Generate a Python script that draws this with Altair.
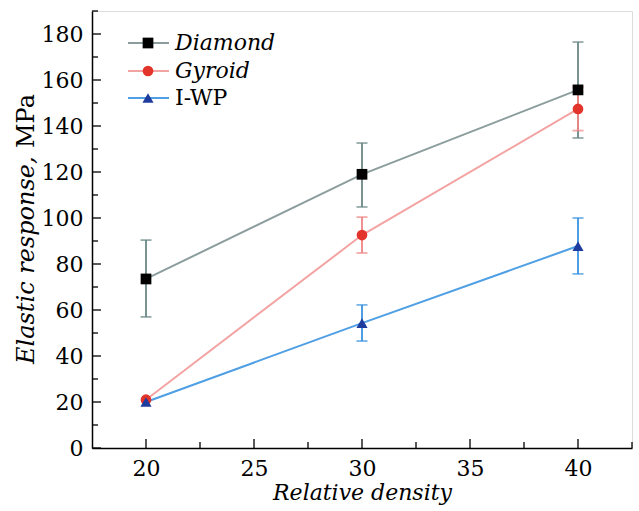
import altair as alt
import pandas as pd

# ---- data ----
density = [20, 30, 40]
diamond_val = [73.5, 119.0, 155.7]
diamond_lo = [57.0, 104.8, 134.8]
diamond_hi = [90.4, 132.6, 176.5]
gyroid_val = [21.0, 92.6, 147.4]
gyroid_lo = [None, 84.8, 138.0]
gyroid_hi = [None, 100.4, 157.0]
iwp_val = [20.0, 54.3, 87.8]
iwp_lo = [None, 46.5, 75.7]
iwp_hi = [None, 62.2, 100.0]

x_major = [20, 25, 30, 35, 40]
x_minor = [22.5, 27.5, 32.5, 37.5, 42.5]
y_major = [0, 20, 40, 60, 80, 100, 120, 140, 160, 180]
y_minor = [10, 30, 50, 70, 90, 110, 130, 150, 170, 190]

FONT = "DejaVu Serif"
W, H = 540, 437

xs = alt.Scale(domain=[17.5, 42.5], nice=False, zero=False)
ys = alt.Scale(domain=[0, 190], nice=False, zero=True)

series = [
    dict(name="Diamond", val=diamond_val, lo=diamond_lo, hi=diamond_hi,
         line="#8c9d9d", err="#6a8686", marker="#000000", shape="square",
         size=115, italic=True),
    dict(name="Gyroid", val=gyroid_val, lo=gyroid_lo, hi=gyroid_hi,
         line="#f4a3a3", err="#ef8585", marker="#e3342c", shape="circle",
         size=115, italic=True),
    dict(name="I-WP", val=iwp_val, lo=iwp_lo, hi=iwp_hi,
         line="#4f9fe4", err="#3b93e0", marker="#1d3c9e", shape="triangle-up",
         size=125, italic=False),
]

layers = []

xmaj = pd.DataFrame({"v": x_major})
xmin = pd.DataFrame({"v": x_minor})
ymaj = pd.DataFrame({"v": y_major})
ymin = pd.DataFrame({"v": y_minor})
layers.append(alt.Chart(xmaj).mark_rule(color="black", strokeWidth=1.3).encode(
    x=alt.X("v:Q", scale=xs), y=alt.value(H), y2=alt.value(H - 9)))
layers.append(alt.Chart(xmin).mark_rule(color="black", strokeWidth=1.3).encode(
    x=alt.X("v:Q", scale=xs), y=alt.value(H), y2=alt.value(H - 6)))
layers.append(alt.Chart(ymaj).mark_rule(color="black", strokeWidth=1.3).encode(
    y=alt.Y("v:Q", scale=ys), x=alt.value(0), x2=alt.value(9)))
layers.append(alt.Chart(ymin).mark_rule(color="black", strokeWidth=1.3).encode(
    y=alt.Y("v:Q", scale=ys), x=alt.value(0), x2=alt.value(6)))

line_layers, err_layers, pt_layers, leg_layers = [], [], [], []
leg_y = [32, 60, 87]
for i, s in enumerate(series):
    df = pd.DataFrame({"x": density, "v": s["val"], "lo": s["lo"], "hi": s["hi"]})
    line_layers.append(alt.Chart(df).mark_line(color=s["line"], strokeWidth=2).encode(
        x=alt.X("x:Q", scale=xs), y=alt.Y("v:Q", scale=ys)))
    base = alt.Chart(df).transform_filter("isValid(datum.lo)")
    err_layers.append(base.mark_rule(color=s["err"], strokeWidth=1.8).encode(
        x=alt.X("x:Q", scale=xs), y=alt.Y("lo:Q", scale=ys), y2="hi:Q"))
    err_layers.append(base.mark_tick(color=s["err"], orient="horizontal", size=11,
                                     thickness=1.8).encode(
        x=alt.X("x:Q", scale=xs), y=alt.Y("lo:Q", scale=ys)))
    err_layers.append(base.mark_tick(color=s["err"], orient="horizontal", size=11,
                                     thickness=1.8).encode(
        x=alt.X("x:Q", scale=xs), y=alt.Y("hi:Q", scale=ys)))
    pt_layers.append(alt.Chart(df).mark_point(shape=s["shape"], filled=True, size=s["size"],
                                              color=s["marker"], opacity=1).encode(
        x=alt.X("x:Q", scale=xs), y=alt.Y("v:Q", scale=ys)))
    ld = pd.DataFrame({"label": [s["name"]]})
    ly = leg_y[i]
    leg_layers.append(alt.Chart(ld).mark_rule(color=s["line"], strokeWidth=2).encode(
        x=alt.value(36), x2=alt.value(77), y=alt.value(ly)))
    leg_layers.append(alt.Chart(ld).mark_point(shape=s["shape"], filled=True, size=s["size"],
                                               color=s["marker"], opacity=1).encode(
        x=alt.value(56), y=alt.value(ly)))
    leg_layers.append(alt.Chart(ld).mark_text(
        font=FONT, fontSize=22, fontStyle="italic" if s["italic"] else "normal",
        align="left", baseline="middle", color="black").encode(
        x=alt.value(83), y=alt.value(ly), text="label:N"))

t1 = pd.DataFrame({"t": ["Elastic response,"]})
t2 = pd.DataFrame({"t": ["MPa"]})
title_layers = [
    alt.Chart(t1).mark_text(font=FONT, fontSize=24, fontStyle="italic", angle=270,
                            align="left", baseline="middle", color="black").encode(
        x=alt.value(-65), y=alt.value(353), text="t:N"),
    alt.Chart(t2).mark_text(font=FONT, fontSize=24, angle=270,
                            align="left", baseline="middle", color="black").encode(
        x=alt.value(-65), y=alt.value(137), text="t:N"),
]

axis_host = alt.Chart(pd.DataFrame({"x": [20], "v": [0]})).mark_point(opacity=0).encode(
    x=alt.X("x:Q", scale=xs, axis=alt.Axis(
        values=x_major, tickSize=0, grid=False, domainColor="black", domainWidth=1.5,
        labelFont=FONT, labelFontSize=22, labelColor="black", labelPadding=10,
        title="Relative density", titleFont=FONT, titleFontSize=22,
        titleFontStyle="italic", titleFontWeight="normal", titleColor="black",
        titlePadding=3)),
    y=alt.Y("v:Q", scale=ys, axis=alt.Axis(
        values=y_major, tickSize=0, grid=False, domainColor="black", domainWidth=1.5,
        labelFont=FONT, labelFontSize=22, labelColor="black", labelPadding=9,
        title=None)),
)

chart = alt.layer(
    axis_host, *layers, *line_layers, *err_layers, *pt_layers, *leg_layers, *title_layers
).properties(
    width=W, height=H,
    autosize=alt.AutoSizeParams(type="none"),
    padding={"left": 92, "top": 11, "right": 7, "bottom": 63},
).configure_view(stroke=None).configure(background="white")

chart.save("out.html", embed_options={"renderer": "svg", "actions": False})
